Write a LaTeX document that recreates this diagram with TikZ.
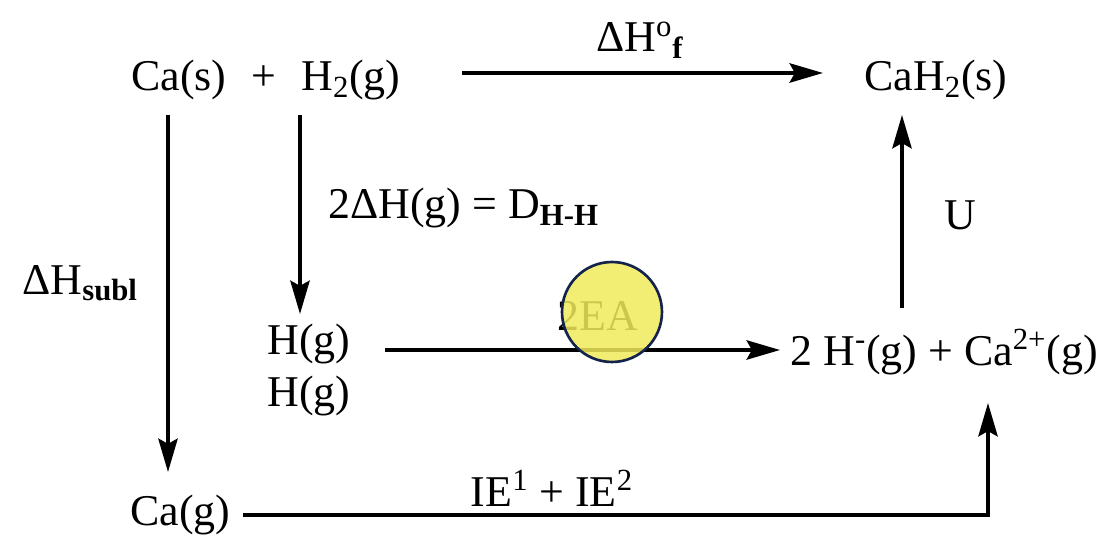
\documentclass[tikz,border=0pt]{standalone}
\usepackage{fontspec}
\setmainfont{Liberation Serif}
\usepackage{tikz}
\usetikzlibrary{arrows.meta, positioning}
\definecolor{hiliteyellow}{RGB}{240,235,90}
\definecolor{hilitenavy}{RGB}{20,35,75}
\newcommand{\dn}[1]{\textsubscript{#1}}
\newcommand{\up}[1]{\textsuperscript{#1}}
\tikzset{
    species/.style={inner sep=0pt, font=\fontsize{25}{30}\selectfont},
    lbl/.style={inner sep=0pt, font=\fontsize{25}{30}\selectfont},
    arrow/.style={-{Stealth[length=19pt, width=11pt, inset=3pt]}, line width=2pt, draw=black},
}
\begin{document}
\begin{tikzpicture}[x=0.02cm, y=-0.02cm]
        \useasboundingbox (0,0) rectangle (1117,536);
        % species
        \node[species, anchor=west] (react) at (131,80) {Ca(s) \hspace{8pt}+\hspace{8pt} H\dn{2}(g)};
        \node[species, anchor=west] (prod) at (864,80) {CaH\dn{2}(s)};
        \node[species, anchor=west] (cag) at (130,515) {Ca(g)};
        \node[species, align=center] (hg) at (309,370) {H(g)\\H(g)};
        \node[species, anchor=west] (ions) at (790,352) {2 H\up{-}(g) + Ca\up{2+}(g)};
        \coordinate (fstart) at (462,73);
        \coordinate (fend) at (823,73);
        \coordinate (casdown) at (168,115);
        \coordinate (cagtop) at (168,472);
        \coordinate (h2down) at (300,115);
        \coordinate (hgtop) at (300,314);
        \coordinate (eastart) at (385,350);
        \coordinate (eaend) at (780,350);
        \coordinate (ubottom) at (902,308);
        \coordinate (utop) at (902,115);
        \coordinate (iestart) at (243,515);
        \coordinate (corner) at (988,515);
        \coordinate (ionbottom) at (988,403);
        % arrows
        \draw[arrow] (fstart) -- (fend);
        \draw[arrow] (casdown) -- (cagtop);
        \draw[arrow] (h2down) -- (hgtop);
        \draw[arrow] (eastart) -- (eaend);
        \draw[arrow] (ubottom) -- (utop);
        \draw[arrow] (iestart) -- (corner) -- (ionbottom);
        % labels
        \node[lbl] (dhf) at (640,40) {ΔH\up{o}\dn{\textbf{f}}};
        \node[lbl, anchor=west] (dhh) at (328,208) {2ΔH(g) = D\dn{\textbf{H-H}}};
        \node[lbl, anchor=west] (dhs) at (22,283) {ΔH\dn{\textbf{subl}}};
        \node[lbl] (ea) at (598,316) {2EA};
        \node[lbl] (u) at (960,215) {U};
        \node[lbl] (ie) at (552,488) {IE\up{1} + IE\up{2}};
        % highlight
        \node[circle, draw=hilitenavy, line width=1.5pt,
              fill=hiliteyellow, fill opacity=0.85, minimum size=2cm] (spot) at (612,312) {};
\end{tikzpicture}
\end{document}
